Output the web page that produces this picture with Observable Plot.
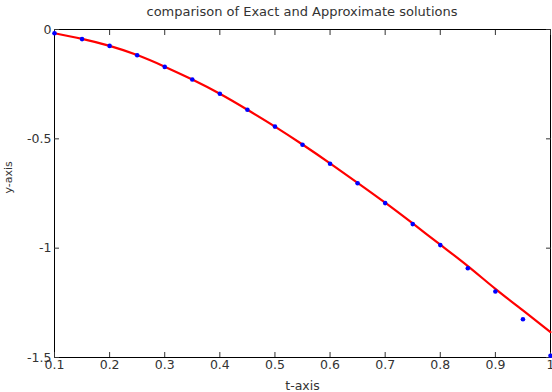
<!DOCTYPE html>
<html>
<head>
<meta charset="utf-8">
<script src="https://cdn.jsdelivr.net/npm/d3@7"></script>
<script src="https://cdn.jsdelivr.net/npm/@observablehq/plot@0.6"></script>
<style>
  html, body { margin: 0; padding: 0; background: #fff; }
  #title { height: 22px; line-height: 22px; padding-top: 4px; margin-bottom: -4px; font: 13px "DejaVu Sans", sans-serif; color: #333; text-align: center; padding-left: 52px; box-sizing: content-box; width: 500px; white-space: nowrap; }
</style>
</head>
<body>
<div id="title">comparison of Exact and Approximate solutions</div>
<div id="chart"></div>
<script>
const tValues = [0.1, 0.15, 0.2, 0.25, 0.3, 0.35, 0.4, 0.45, 0.5, 0.55, 0.6, 0.65, 0.7, 0.75, 0.8, 0.85, 0.9, 0.95, 1.0];
const exactValues = [-0.017, -0.043, -0.075, -0.117, -0.170, -0.229, -0.294, -0.367, -0.444, -0.526, -0.612, -0.701, -0.792, -0.887, -0.984, -1.082, -1.186, -1.285, -1.384];
const approxValues = [-0.017, -0.044, -0.075, -0.118, -0.171, -0.229, -0.294, -0.367, -0.444, -0.527, -0.614, -0.703, -0.794, -0.890, -0.986, -1.092, -1.198, -1.325, -1.492];
const xTicks = [0.1, 0.2, 0.3, 0.4, 0.5, 0.6, 0.7, 0.8, 0.9, 1];
const yTicks = [0, -0.5, -1, -1.5];
const xTickLabels = ["0.1", "0.2", "0.3", "0.4", "0.5", "0.6", "0.7", "0.8", "0.9", "1"];
const yTickLabels = ["0", "-0.5", "-1", "-1.5"];

const exact = tValues.map((t, i) => ({t, y: exactValues[i]}));
const approx = tValues.map((t, i) => ({t, y: approxValues[i]}));

const chart = Plot.plot({
  width: 552,
  height: 370,
  marginTop: 7,
  marginBottom: 35,
  marginLeft: 54,
  marginRight: 2,
  style: {fontFamily: "'DejaVu Sans', sans-serif", fontSize: "12.5px", color: "#333"},
  x: {domain: [0.1, 1]},
  y: {domain: [-1.5, 0]},
  marks: [
    Plot.frame({stroke: "#000", strokeWidth: 1}),
    Plot.axisX({anchor: "bottom", ticks: xTicks, tickSize: -5, tickPadding: 8, tickFormat: (d, i) => xTickLabels[i], label: null, fontSize: 12.5}),
    Plot.axisX({anchor: "top", ticks: xTicks, tickSize: -5, tickFormat: () => "", label: null}),
    Plot.axisY({anchor: "left", ticks: yTicks, tickSize: -5, tickPadding: 8, tickFormat: (d, i) => yTickLabels[i], label: null, fontSize: 12.5}),
    Plot.axisY({anchor: "right", ticks: yTicks, tickSize: -5, tickFormat: () => "", label: null}),
    Plot.text(["t-axis"], {frameAnchor: "bottom", dy: 32, fontSize: 12.5, fill: "#333"}),
    Plot.text(["y-axis"], {frameAnchor: "left", dx: -46, rotate: -90, fontSize: 11, fill: "#333"}),
    Plot.line(exact, {x: "t", y: "y", stroke: "#ff0000", strokeWidth: 2.2, curve: "natural"}),
    Plot.dot(approx, {x: "t", y: "y", r: 2.3, fill: "#0000ff", stroke: null})
  ]
});
document.getElementById("chart").appendChild(chart);
</script>
</body>
</html>
